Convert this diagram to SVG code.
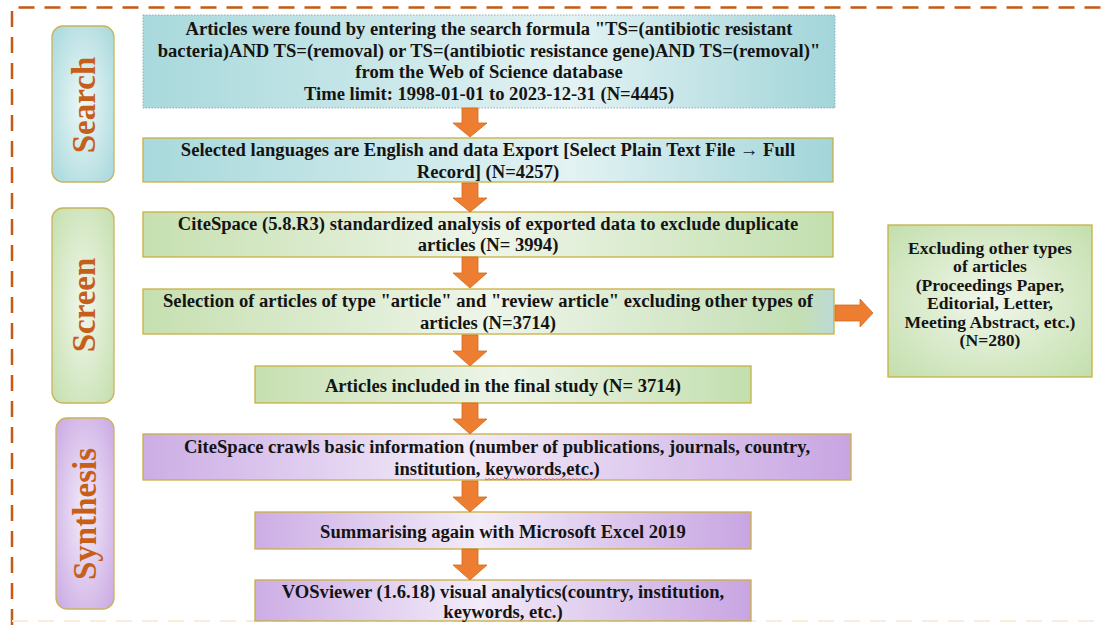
<svg xmlns="http://www.w3.org/2000/svg" width="1103" height="625" viewBox="0 0 1103 625">
<defs>
<linearGradient id="gTeal" x1="0" y1="0" x2="1" y2="0"><stop offset="0" stop-color="#a8d9dc"/><stop offset="0.62" stop-color="#e3f2f3"/><stop offset="1" stop-color="#a2d5d9"/></linearGradient>
<linearGradient id="gGreen" x1="0" y1="0" x2="1" y2="0"><stop offset="0" stop-color="#c6e0b0"/><stop offset="0.5" stop-color="#eef5e9"/><stop offset="1" stop-color="#c2dfae"/></linearGradient>
<linearGradient id="gGreen2" x1="0" y1="0" x2="1" y2="0"><stop offset="0" stop-color="#c6e0b0"/><stop offset="0.5" stop-color="#eef5e9"/><stop offset="0.95" stop-color="#c4dfb4"/><stop offset="1" stop-color="#bcdad6"/></linearGradient>
<linearGradient id="gPurple" x1="0" y1="0" x2="1" y2="0"><stop offset="0" stop-color="#ccade5"/><stop offset="0.45" stop-color="#f2ebf8"/><stop offset="1" stop-color="#c8a5e2"/></linearGradient>
<radialGradient id="rTeal" cx="0.5" cy="0.5" r="0.7"><stop offset="0" stop-color="#eef8f8"/><stop offset="1" stop-color="#a6d8dc"/></radialGradient>
<radialGradient id="rGreen" cx="0.5" cy="0.5" r="0.7"><stop offset="0" stop-color="#f1f7ec"/><stop offset="1" stop-color="#c3dfac"/></radialGradient>
<radialGradient id="rPurple" cx="0.5" cy="0.5" r="0.7"><stop offset="0" stop-color="#f3ecf9"/><stop offset="1" stop-color="#c9a8e3"/></radialGradient>
</defs>
<style>
.frame{fill:none;stroke:#c55a11;stroke-width:2.5;stroke-dasharray:16 10}
.box{stroke:#c9b040;stroke-width:1.3}
.dotted{stroke:#8fb0bd;stroke-width:1;stroke-dasharray:1.5 1.5}
.pill{stroke:#c9b45c;stroke-width:1.3}
.t{font-family:"Liberation Serif","Times New Roman",serif;font-weight:bold;font-size:18.6px;fill:#141414;text-anchor:middle}
.tr{font-size:17.6px}
.side{font-family:"Liberation Serif","Times New Roman",serif;font-weight:bold;font-size:33px;fill:#c65f1a;text-anchor:middle}
.arrow{fill:#ed7d31;stroke:#d2691f;stroke-width:0.8}
</style>
<rect width="1103" height="625" fill="#ffffff"/>
<path class="frame" d="M12 625 V7.5 H1103"/>
<path d="M12 621 H1103" fill="none" stroke="#f9ecdc" stroke-width="2" stroke-dasharray="16 10"/>

<g id="search-label">
<rect class="pill" x="52" y="26" width="62" height="156" rx="11" fill="url(#rTeal)"/>
<text class="side" transform="translate(95,105) rotate(-90)">Search</text>
</g>
<g id="screen-label">
<rect class="pill" x="52" y="208" width="62" height="195" rx="11" fill="url(#rGreen)"/>
<text class="side" transform="translate(95,305) rotate(-90)">Screen</text>
</g>
<g id="synthesis-label">
<rect class="pill" x="56" y="418" width="58" height="191" rx="11" fill="url(#rPurple)"/>
<text class="side" transform="translate(96,514) rotate(-90)">Synthesis</text>
</g>

<g id="n1">
<rect class="dotted" x="143" y="15" width="692" height="93" fill="url(#gTeal)"/>
<text class="t" x="489" y="35">Articles were found by entering the search formula "TS=(antibiotic resistant</text>
<text class="t" x="489" y="56.5">bacteria)AND TS=(removal) or TS=(antibiotic resistance gene)AND TS=(removal)"</text>
<text class="t" x="489" y="78">from the Web of Science database</text>
<text class="t" x="489" y="99.5">Time limit: 1998-01-01 to 2023-12-31 (N=4445)</text>
</g>
<g id="n2">
<rect class="box" x="143" y="138" width="690" height="44" fill="url(#gTeal)"/>
<text class="t" x="488" y="156">Selected languages are English and data Export [Select Plain Text File → Full</text>
<text class="t" x="488" y="178">Record] (N=4257)</text>
</g>
<g id="n3">
<rect class="box" x="143" y="212" width="690" height="45" fill="url(#gGreen)"/>
<text class="t" x="488" y="230">CiteSpace (5.8.R3) standardized analysis of exported data to exclude duplicate</text>
<text class="t" x="488" y="251">articles (N= 3994)</text>
</g>
<g id="n4">
<rect class="box" x="143" y="289" width="691" height="45" fill="url(#gGreen2)"/>
<text class="t" x="488" y="307">Selection of articles of type "article" and "review article" excluding other types of</text>
<text class="t" x="488" y="329">articles (N=3714)</text>
</g>
<g id="n5">
<rect class="box" x="255" y="366" width="496" height="37" fill="url(#gGreen)"/>
<text class="t" x="503" y="392">Articles included in the final study (N= 3714)</text>
</g>
<g id="n-excluded">
<rect class="box" x="888" y="225" width="204" height="152" fill="url(#rGreen)"/>
<text class="t tr" x="990" y="254">Excluding other types</text>
<text class="t tr" x="990" y="272.4">of articles</text>
<text class="t tr" x="990" y="290.8">(Proceedings Paper,</text>
<text class="t tr" x="990" y="309.2">Editorial, Letter,</text>
<text class="t tr" x="990" y="327.6">Meeting Abstract, etc.)</text>
<text class="t tr" x="990" y="346">(N=280)</text>
</g>
<g id="n6">
<rect class="box" x="143" y="434" width="708" height="46" fill="url(#gPurple)"/>
<text class="t" x="497" y="453">CiteSpace crawls basic information (number of publications, journals, country,</text>
<text class="t" x="497" y="475">institution, keywords,etc.)</text>
<path d="M485 478.5 l2 1.5 l2 -1.5 l2 1.5 l2 -1.5 l2 1.5 l2 -1.5 l2 1.5 l2 -1.5 l2 1.5 l2 -1.5 l2 1.5 l2 -1.5 l2 1.5 l2 -1.5 l2 1.5 l2 -1.5 l2 1.5 l2 -1.5 l2 1.5 l2 -1.5 l2 1.5 l2 -1.5 l2 1.5 l2 -1.5 l2 1.5 l2 -1.5 l2 1.5 l2 -1.5 l2 1.5 l2 -1.5 l2 1.5 l2 -1.5 l2 1.5 l2 -1.5 l2 1.5 l2 -1.5 l2 1.5 l2 -1.5 l2 1.5 l2 -1.5 l2 1.5 l2 -1.5 l2 1.5 l2 -1.5 l2 1.5 l2 -1.5 l2 1.5 l2 -1.5 l2 1.5 l2 -1.5 l2 1.5 l2 -1.5 l2 1.5 l2 -1.5 l2 1.5" fill="none" stroke="#e04a4a" stroke-width="0.8"/>
</g>
<g id="n7">
<rect class="box" x="255" y="512" width="496" height="37" fill="url(#gPurple)"/>
<text class="t" x="503" y="538">Summarising again with Microsoft Excel 2019</text>
</g>
<g id="n8">
<rect class="box" x="255" y="580" width="496" height="41" fill="url(#gPurple)"/>
<text class="t" x="503" y="598">VOSviewer (1.6.18) visual analytics(country, institution,</text>
<text class="t" x="503" y="618">keywords, etc.)</text>
</g>

<g id="connectors">
<path class="arrow" d="M462 108 H478 V123 H487 L470 137 L453 123 H462 Z"/>
<path class="arrow" d="M462 183 H478 V198 H487 L470 212 L453 198 H462 Z"/>
<path class="arrow" d="M462 257 H478 V273 H487 L470 288 L453 273 H462 Z"/>
<path class="arrow" d="M462 335 H478 V351 H487 L470 366 L453 351 H462 Z"/>
<path class="arrow" d="M462 403 H478 V419 H487 L470 434 L453 419 H462 Z"/>
<path class="arrow" d="M462 481 H478 V497 H487 L470 512 L453 497 H462 Z"/>
<path class="arrow" d="M462 549 H478 V565 H487 L470 580 L453 565 H462 Z"/>
<path class="arrow" d="M835 305 H860 V299 L873 313 L860 327 V321 H835 Z"/>
</g>
</svg>
